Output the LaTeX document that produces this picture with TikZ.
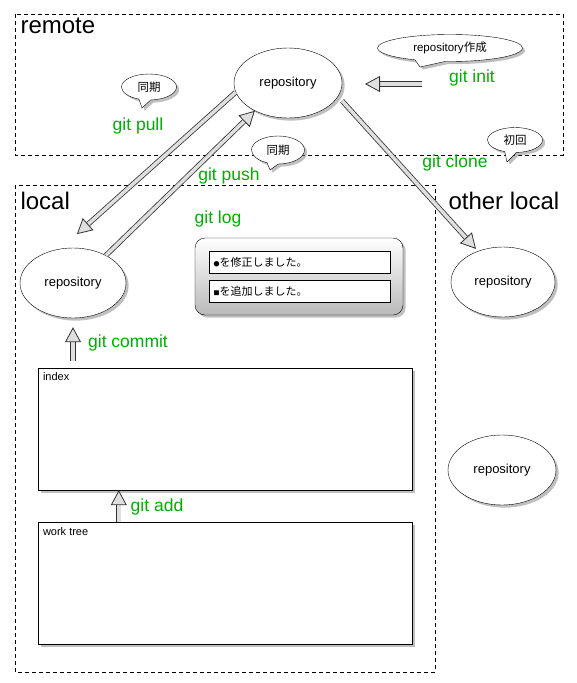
\documentclass[tikz,border=0pt]{standalone}
\usepackage{fontspec}
\setmainfont{Liberation Sans}
\newfontfamily\jp{Noto Sans CJK JP}
\usetikzlibrary{shapes.geometric,shapes.callouts,shadows,arrows.meta}
\definecolor{gitvert}{RGB}{0,175,0}

\begin{document}
\begin{tikzpicture}[x=1pt,y=-1pt]
\tikzstyle{fleche}=[line width=0.8pt,double=gray!25,double distance=3.5pt,draw=black!80,-{Triangle[length=15pt,width=16pt,line width=0.8pt,fill=gray!25]}]
\tikzset{depot/.style={ellipse,draw,fill=white,drop shadow,minimum width=#1,minimum height=70pt,font=\fontsize{13}{15}\selectfont},
depot/.default={108pt}}
\tikzstyle{cadre}=[draw,dash pattern=on 4pt off 3pt]
\tikzstyle{titre}=[font=\fontsize{24}{28}\selectfont,anchor=west]
\tikzstyle{cmd}=[text=gitvert,font=\fontsize{17.5}{20}\selectfont]
\tikzstyle{bulle}=[ellipse callout,draw,fill=white,drop shadow,callout pointer arc=25,inner sep=1pt,font=\fontsize{11.5}{13}\selectfont]
\tikzstyle{boite}=[draw,fill=white,drop shadow,minimum width=374pt,minimum height=122pt]
\tikzstyle{etiq}=[anchor=north west,inner sep=5pt,font=\fontsize{11}{13}\selectfont]
\tikzstyle{ligne}=[draw,fill=white,minimum width=181pt,minimum height=22pt,text width=172pt,align=left,font=\jp\fontsize{11}{13}\selectfont]

\useasboundingbox (0,0) rectangle (577,683);
\draw[cadre] (15,14) rectangle (563,155);
\draw[cadre] (15,185) rectangle (435,672);
\node[titre] at (17,26) {remote};
\node[titre] at (17,201) {local};
\node[titre] at (445,201) {other local};

\node[depot] (R) at (288,83) {repository};
\node[depot=106pt] (L) at (73,283) {repository};
\node[depot=104pt] (O) at (503,282) {repository};
\node[depot] (O2) at (502,470) {repository};

\node[boite] (I) at (225,429) {};
\node[etiq] (It) at (I.north west) {index};
\node[boite] (W) at (225,583.5) {};
\node[etiq] (Wt) at (W.north west) {work tree};

\node[draw,rounded corners=10pt,top color=white,bottom color=gray!55,drop shadow,minimum width=208pt,minimum height=77pt] (G) at (299,276.5) {};
\node[ligne] (G1) at (299.5,262) {{\fontsize{6}{6}\selectfont ●}を修正しました。};
\node[ligne] (G2) at (299.5,291) {{\fontsize{6}{6}\selectfont ■}を追加しました。};

\coordinate (P) at (422,84);
\coordinate (Q) at (365,84);
\draw[fleche] (P) -- (Q);
\draw[fleche,shorten >=22pt] (R.190) -- (L.110);
\draw[fleche] (L.40) -- (R.220);
\draw[fleche,shorten <=6pt,shorten >=3pt] (R.345) -- (O.129);
\draw[fleche,shorten <=7pt,shorten >=9pt] (L.south |- I.north) -- (L.south);
\draw[fleche] ([xshift=81pt]W.north west) -- ([xshift=81pt]I.south west);

\node[cmd] (c1) at (472,78) {git init};
\node[cmd] (c2) at (138,126) {git pull};
\node[cmd] (c3) at (229,176) {git push};
\node[cmd] (c4) at (455,163) {git clone};
\node[cmd] (c5) at (218,219) {git log};
\node[cmd] (c6) at (128,343) {git commit};
\node[cmd] (c7) at (157,507) {git add};

\node[bulle,minimum width=145pt,minimum height=27pt,callout absolute pointer={(420,67)}] (B1) at (450,48) {repository{\jp 作成}};
\node[bulle,minimum width=55pt,minimum height=26pt,callout absolute pointer={(142,108)}] (B2) at (149,87) {\jp 同期};
\node[bulle,minimum width=53pt,minimum height=28pt,callout absolute pointer={(270,170)}] (B3) at (278,150) {\jp 同期};
\node[bulle,minimum width=55pt,minimum height=25pt,callout absolute pointer={(507,162)}] (B4) at (515,140) {\jp 初回};

\end{tikzpicture}
\end{document}
